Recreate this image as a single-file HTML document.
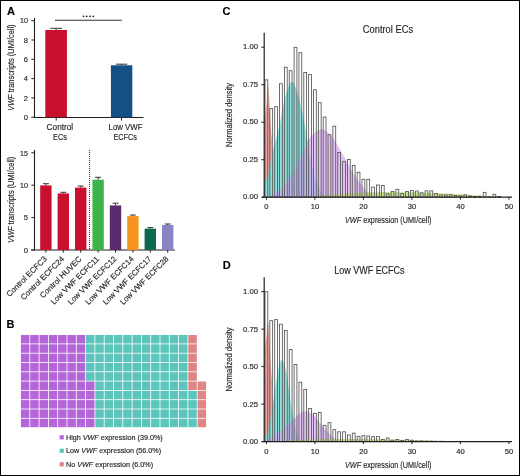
<!DOCTYPE html>
<html><head><meta charset="utf-8"><style>
html,body{margin:0;padding:0;background:#fff;}
svg{display:block;font-family:"Liberation Sans", sans-serif;will-change:transform;}
text{stroke:#231f20;stroke-width:0.15px;}
</style></head><body>
<svg width="520" height="476" viewBox="0 0 520 476">
<rect x="0.5" y="0.5" width="519" height="475" fill="#fff" stroke="#000" stroke-width="1"/>
<text x="7" y="15.0" font-size="11" font-weight="bold" fill="#000">A</text>
<text x="6.6" y="328.2" font-size="11" font-weight="bold" fill="#000">B</text>
<text x="222.6" y="15.3" font-size="11" font-weight="bold" fill="#000">C</text>
<text x="222.8" y="268.6" font-size="11" font-weight="bold" fill="#000">D</text>
<path d="M34.5 18 V117.5 H143.5" fill="none" stroke="#231f20" stroke-width="1.1"/>
<path d="M31.3 117.2 H34.5" stroke="#231f20" stroke-width="1"/>
<text x="27.9" y="119.9" font-size="7.6" text-anchor="end" fill="#231f20" >0</text>
<path d="M31.3 97.9 H34.5" stroke="#231f20" stroke-width="1"/>
<text x="27.9" y="100.6" font-size="7.6" text-anchor="end" fill="#231f20" >2</text>
<path d="M31.3 78.6 H34.5" stroke="#231f20" stroke-width="1"/>
<text x="27.9" y="81.3" font-size="7.6" text-anchor="end" fill="#231f20" >4</text>
<path d="M31.3 59.3 H34.5" stroke="#231f20" stroke-width="1"/>
<text x="27.9" y="62" font-size="7.6" text-anchor="end" fill="#231f20" >6</text>
<path d="M31.3 40 H34.5" stroke="#231f20" stroke-width="1"/>
<text x="27.9" y="42.7" font-size="7.6" text-anchor="end" fill="#231f20" >8</text>
<path d="M31.3 20.7 H34.5" stroke="#231f20" stroke-width="1"/>
<text x="27.9" y="23.4" font-size="7.6" text-anchor="end" fill="#231f20" textLength="8" lengthAdjust="spacingAndGlyphs" >10</text>
<rect x="45.3" y="29.96" width="21.6" height="87.24" fill="#c8102e"/>
<rect x="110.9" y="65.28" width="21.4" height="51.92" fill="#144f85"/>
<path d="M56.1 29.96 V28.3 M50.3 28.3 H62" stroke="#231f20" stroke-width="0.9"/>
<path d="M121.6 65.28 V64.2 M115.8 64.2 H127.3" stroke="#231f20" stroke-width="0.9"/>
<path d="M56.2 117.5 V120.6 M121.5 117.5 V120.6" stroke="#231f20" stroke-width="1"/>
<path d="M55 20.2 H121.8" stroke="#333" stroke-width="1.1"/>
<circle cx="83.5" cy="16.3" r="0.9" fill="#231f20"/><circle cx="86.7" cy="16.3" r="0.9" fill="#231f20"/><circle cx="90.0" cy="16.3" r="0.9" fill="#231f20"/><circle cx="93.3" cy="16.3" r="0.9" fill="#231f20"/>
<text x="59.9" y="130.2" font-size="8.2" text-anchor="middle" fill="#231f20" textLength="26.6" lengthAdjust="spacingAndGlyphs" >Control</text>
<text x="60" y="139.6" font-size="8.2" text-anchor="middle" fill="#231f20" textLength="13.8" lengthAdjust="spacingAndGlyphs" >ECs</text>
<text x="125.5" y="130.2" font-size="8.2" text-anchor="middle" fill="#231f20" textLength="33.9" lengthAdjust="spacingAndGlyphs" >Low VWF</text>
<text x="125.2" y="139.6" font-size="8.2" text-anchor="middle" fill="#231f20" textLength="23.4" lengthAdjust="spacingAndGlyphs" >ECFCs</text>
<text transform="translate(14.3 67.65) rotate(-90)" font-size="9.9" text-anchor="middle" fill="#231f20" textLength="86.3" lengthAdjust="spacingAndGlyphs"><tspan font-style="italic">VWF</tspan> transcripts (UMI/cell)</text>
<path d="M34.5 150 V250 M31 250 H175" fill="none" stroke="#231f20" stroke-width="1.1"/>
<path d="M31.3 250 H34.5" stroke="#231f20" stroke-width="1"/>
<text x="27.9" y="252.7" font-size="7.6" text-anchor="end" fill="#231f20" >0</text>
<path d="M31.3 217.6 H34.5" stroke="#231f20" stroke-width="1"/>
<text x="27.9" y="220.3" font-size="7.6" text-anchor="end" fill="#231f20" >5</text>
<path d="M31.3 185.2 H34.5" stroke="#231f20" stroke-width="1"/>
<text x="27.9" y="187.9" font-size="7.6" text-anchor="end" fill="#231f20" textLength="8" lengthAdjust="spacingAndGlyphs" >10</text>
<path d="M31.3 152.8 H34.5" stroke="#231f20" stroke-width="1"/>
<text x="27.9" y="155.5" font-size="7.6" text-anchor="end" fill="#231f20" textLength="8" lengthAdjust="spacingAndGlyphs" >15</text>
<rect x="40.2" y="185.39" width="11.4" height="64.61" fill="#c8102e"/>
<path d="M45.9 185.39 V183.7 M42.9 183.7 H48.9" stroke="#231f20" stroke-width="0.9"/>
<path d="M45.9 250 V252.6" stroke="#231f20" stroke-width="1"/>
<text transform="translate(47.33 259.5) rotate(-45)" font-size="7.9" text-anchor="end" fill="#231f20">Control ECFC3</text>
<rect x="57.6" y="193.43" width="11.4" height="56.57" fill="#c8102e"/>
<path d="M63.3 193.43 V192.3 M60.3 192.3 H66.3" stroke="#231f20" stroke-width="0.9"/>
<path d="M63.3 250 V252.6" stroke="#231f20" stroke-width="1"/>
<text transform="translate(64.73 259.5) rotate(-45)" font-size="7.9" text-anchor="end" fill="#231f20">Control ECFC24</text>
<rect x="75" y="187.6" width="11.4" height="62.4" fill="#c8102e"/>
<path d="M80.7 187.6 V186 M77.7 186 H83.7" stroke="#231f20" stroke-width="0.9"/>
<path d="M80.7 250 V252.6" stroke="#231f20" stroke-width="1"/>
<text transform="translate(82.13 259.5) rotate(-45)" font-size="7.9" text-anchor="end" fill="#231f20">Control HUVEC</text>
<rect x="92.4" y="179.69" width="11.4" height="70.31" fill="#3cb44b"/>
<path d="M98.1 179.69 V177.3 M95.1 177.3 H101.1" stroke="#231f20" stroke-width="0.9"/>
<path d="M98.1 250 V252.6" stroke="#231f20" stroke-width="1"/>
<text transform="translate(99.53 259.5) rotate(-45)" font-size="7.9" text-anchor="end" fill="#231f20" textLength="64.3" lengthAdjust="spacingAndGlyphs">Low VWF ECFC11</text>
<rect x="109.8" y="205.42" width="11.4" height="44.58" fill="#5c2a6f"/>
<path d="M115.5 205.42 V203.2 M112.5 203.2 H118.5" stroke="#231f20" stroke-width="0.9"/>
<path d="M115.5 250 V252.6" stroke="#231f20" stroke-width="1"/>
<text transform="translate(116.93 259.5) rotate(-45)" font-size="7.9" text-anchor="end" fill="#231f20" textLength="64.85" lengthAdjust="spacingAndGlyphs">Low VWF ECFC12</text>
<rect x="127.2" y="216.11" width="11.4" height="33.89" fill="#f7941d"/>
<path d="M132.9 216.11 V215 M129.9 215 H135.9" stroke="#231f20" stroke-width="0.9"/>
<path d="M132.9 250 V252.6" stroke="#231f20" stroke-width="1"/>
<text transform="translate(134.33 259.5) rotate(-45)" font-size="7.9" text-anchor="end" fill="#231f20" textLength="64.85" lengthAdjust="spacingAndGlyphs">Low VWF ECFC14</text>
<rect x="144.6" y="228.68" width="11.4" height="21.32" fill="#0b6a50"/>
<path d="M150.3 228.68 V227.6 M147.3 227.6 H153.3" stroke="#231f20" stroke-width="0.9"/>
<path d="M150.3 250 V252.6" stroke="#231f20" stroke-width="1"/>
<text transform="translate(151.73 259.5) rotate(-45)" font-size="7.9" text-anchor="end" fill="#231f20" textLength="64.85" lengthAdjust="spacingAndGlyphs">Low VWF ECFC17</text>
<rect x="162" y="224.99" width="11.4" height="25.01" fill="#8a84c4"/>
<path d="M167.7 224.99 V224 M164.7 224 H170.7" stroke="#231f20" stroke-width="0.9"/>
<path d="M167.7 250 V252.6" stroke="#231f20" stroke-width="1"/>
<text transform="translate(169.13 259.5) rotate(-45)" font-size="7.9" text-anchor="end" fill="#231f20" textLength="64.85" lengthAdjust="spacingAndGlyphs">Low VWF ECFC28</text>
<path d="M89.6 150 V250" stroke="#231f20" stroke-width="1" stroke-dasharray="1 1"/>
<text transform="translate(14.3 199.85) rotate(-90)" font-size="9.9" text-anchor="middle" fill="#231f20" textLength="86.1" lengthAdjust="spacingAndGlyphs"><tspan font-style="italic">VWF</tspan> transcripts (UMI/cell)</text>
<rect x="20.9" y="335" width="8.5" height="8.5" fill="#b466d9"/>
<rect x="30.2" y="335" width="8.5" height="8.5" fill="#b466d9"/>
<rect x="39.5" y="335" width="8.5" height="8.5" fill="#b466d9"/>
<rect x="48.8" y="335" width="8.5" height="8.5" fill="#b466d9"/>
<rect x="58.1" y="335" width="8.5" height="8.5" fill="#b466d9"/>
<rect x="67.4" y="335" width="8.5" height="8.5" fill="#b466d9"/>
<rect x="76.7" y="335" width="8.5" height="8.5" fill="#b466d9"/>
<rect x="86" y="335" width="8.5" height="8.5" fill="#5cc6bd"/>
<rect x="95.3" y="335" width="8.5" height="8.5" fill="#5cc6bd"/>
<rect x="104.6" y="335" width="8.5" height="8.5" fill="#5cc6bd"/>
<rect x="113.9" y="335" width="8.5" height="8.5" fill="#5cc6bd"/>
<rect x="123.2" y="335" width="8.5" height="8.5" fill="#5cc6bd"/>
<rect x="132.5" y="335" width="8.5" height="8.5" fill="#5cc6bd"/>
<rect x="141.8" y="335" width="8.5" height="8.5" fill="#5cc6bd"/>
<rect x="151.1" y="335" width="8.5" height="8.5" fill="#5cc6bd"/>
<rect x="160.4" y="335" width="8.5" height="8.5" fill="#5cc6bd"/>
<rect x="169.7" y="335" width="8.5" height="8.5" fill="#5cc6bd"/>
<rect x="179" y="335" width="8.5" height="8.5" fill="#5cc6bd"/>
<rect x="188.3" y="335" width="8.5" height="8.5" fill="#e08585"/>
<rect x="20.9" y="344.3" width="8.5" height="8.5" fill="#b466d9"/>
<rect x="30.2" y="344.3" width="8.5" height="8.5" fill="#b466d9"/>
<rect x="39.5" y="344.3" width="8.5" height="8.5" fill="#b466d9"/>
<rect x="48.8" y="344.3" width="8.5" height="8.5" fill="#b466d9"/>
<rect x="58.1" y="344.3" width="8.5" height="8.5" fill="#b466d9"/>
<rect x="67.4" y="344.3" width="8.5" height="8.5" fill="#b466d9"/>
<rect x="76.7" y="344.3" width="8.5" height="8.5" fill="#b466d9"/>
<rect x="86" y="344.3" width="8.5" height="8.5" fill="#5cc6bd"/>
<rect x="95.3" y="344.3" width="8.5" height="8.5" fill="#5cc6bd"/>
<rect x="104.6" y="344.3" width="8.5" height="8.5" fill="#5cc6bd"/>
<rect x="113.9" y="344.3" width="8.5" height="8.5" fill="#5cc6bd"/>
<rect x="123.2" y="344.3" width="8.5" height="8.5" fill="#5cc6bd"/>
<rect x="132.5" y="344.3" width="8.5" height="8.5" fill="#5cc6bd"/>
<rect x="141.8" y="344.3" width="8.5" height="8.5" fill="#5cc6bd"/>
<rect x="151.1" y="344.3" width="8.5" height="8.5" fill="#5cc6bd"/>
<rect x="160.4" y="344.3" width="8.5" height="8.5" fill="#5cc6bd"/>
<rect x="169.7" y="344.3" width="8.5" height="8.5" fill="#5cc6bd"/>
<rect x="179" y="344.3" width="8.5" height="8.5" fill="#5cc6bd"/>
<rect x="188.3" y="344.3" width="8.5" height="8.5" fill="#e08585"/>
<rect x="20.9" y="353.6" width="8.5" height="8.5" fill="#b466d9"/>
<rect x="30.2" y="353.6" width="8.5" height="8.5" fill="#b466d9"/>
<rect x="39.5" y="353.6" width="8.5" height="8.5" fill="#b466d9"/>
<rect x="48.8" y="353.6" width="8.5" height="8.5" fill="#b466d9"/>
<rect x="58.1" y="353.6" width="8.5" height="8.5" fill="#b466d9"/>
<rect x="67.4" y="353.6" width="8.5" height="8.5" fill="#b466d9"/>
<rect x="76.7" y="353.6" width="8.5" height="8.5" fill="#b466d9"/>
<rect x="86" y="353.6" width="8.5" height="8.5" fill="#5cc6bd"/>
<rect x="95.3" y="353.6" width="8.5" height="8.5" fill="#5cc6bd"/>
<rect x="104.6" y="353.6" width="8.5" height="8.5" fill="#5cc6bd"/>
<rect x="113.9" y="353.6" width="8.5" height="8.5" fill="#5cc6bd"/>
<rect x="123.2" y="353.6" width="8.5" height="8.5" fill="#5cc6bd"/>
<rect x="132.5" y="353.6" width="8.5" height="8.5" fill="#5cc6bd"/>
<rect x="141.8" y="353.6" width="8.5" height="8.5" fill="#5cc6bd"/>
<rect x="151.1" y="353.6" width="8.5" height="8.5" fill="#5cc6bd"/>
<rect x="160.4" y="353.6" width="8.5" height="8.5" fill="#5cc6bd"/>
<rect x="169.7" y="353.6" width="8.5" height="8.5" fill="#5cc6bd"/>
<rect x="179" y="353.6" width="8.5" height="8.5" fill="#5cc6bd"/>
<rect x="188.3" y="353.6" width="8.5" height="8.5" fill="#e08585"/>
<rect x="20.9" y="362.9" width="8.5" height="8.5" fill="#b466d9"/>
<rect x="30.2" y="362.9" width="8.5" height="8.5" fill="#b466d9"/>
<rect x="39.5" y="362.9" width="8.5" height="8.5" fill="#b466d9"/>
<rect x="48.8" y="362.9" width="8.5" height="8.5" fill="#b466d9"/>
<rect x="58.1" y="362.9" width="8.5" height="8.5" fill="#b466d9"/>
<rect x="67.4" y="362.9" width="8.5" height="8.5" fill="#b466d9"/>
<rect x="76.7" y="362.9" width="8.5" height="8.5" fill="#b466d9"/>
<rect x="86" y="362.9" width="8.5" height="8.5" fill="#5cc6bd"/>
<rect x="95.3" y="362.9" width="8.5" height="8.5" fill="#5cc6bd"/>
<rect x="104.6" y="362.9" width="8.5" height="8.5" fill="#5cc6bd"/>
<rect x="113.9" y="362.9" width="8.5" height="8.5" fill="#5cc6bd"/>
<rect x="123.2" y="362.9" width="8.5" height="8.5" fill="#5cc6bd"/>
<rect x="132.5" y="362.9" width="8.5" height="8.5" fill="#5cc6bd"/>
<rect x="141.8" y="362.9" width="8.5" height="8.5" fill="#5cc6bd"/>
<rect x="151.1" y="362.9" width="8.5" height="8.5" fill="#5cc6bd"/>
<rect x="160.4" y="362.9" width="8.5" height="8.5" fill="#5cc6bd"/>
<rect x="169.7" y="362.9" width="8.5" height="8.5" fill="#5cc6bd"/>
<rect x="179" y="362.9" width="8.5" height="8.5" fill="#5cc6bd"/>
<rect x="188.3" y="362.9" width="8.5" height="8.5" fill="#e08585"/>
<rect x="20.9" y="372.2" width="8.5" height="8.5" fill="#b466d9"/>
<rect x="30.2" y="372.2" width="8.5" height="8.5" fill="#b466d9"/>
<rect x="39.5" y="372.2" width="8.5" height="8.5" fill="#b466d9"/>
<rect x="48.8" y="372.2" width="8.5" height="8.5" fill="#b466d9"/>
<rect x="58.1" y="372.2" width="8.5" height="8.5" fill="#b466d9"/>
<rect x="67.4" y="372.2" width="8.5" height="8.5" fill="#b466d9"/>
<rect x="76.7" y="372.2" width="8.5" height="8.5" fill="#b466d9"/>
<rect x="86" y="372.2" width="8.5" height="8.5" fill="#5cc6bd"/>
<rect x="95.3" y="372.2" width="8.5" height="8.5" fill="#5cc6bd"/>
<rect x="104.6" y="372.2" width="8.5" height="8.5" fill="#5cc6bd"/>
<rect x="113.9" y="372.2" width="8.5" height="8.5" fill="#5cc6bd"/>
<rect x="123.2" y="372.2" width="8.5" height="8.5" fill="#5cc6bd"/>
<rect x="132.5" y="372.2" width="8.5" height="8.5" fill="#5cc6bd"/>
<rect x="141.8" y="372.2" width="8.5" height="8.5" fill="#5cc6bd"/>
<rect x="151.1" y="372.2" width="8.5" height="8.5" fill="#5cc6bd"/>
<rect x="160.4" y="372.2" width="8.5" height="8.5" fill="#5cc6bd"/>
<rect x="169.7" y="372.2" width="8.5" height="8.5" fill="#5cc6bd"/>
<rect x="179" y="372.2" width="8.5" height="8.5" fill="#5cc6bd"/>
<rect x="188.3" y="372.2" width="8.5" height="8.5" fill="#e08585"/>
<rect x="20.9" y="381.5" width="8.5" height="8.5" fill="#b466d9"/>
<rect x="30.2" y="381.5" width="8.5" height="8.5" fill="#b466d9"/>
<rect x="39.5" y="381.5" width="8.5" height="8.5" fill="#b466d9"/>
<rect x="48.8" y="381.5" width="8.5" height="8.5" fill="#b466d9"/>
<rect x="58.1" y="381.5" width="8.5" height="8.5" fill="#b466d9"/>
<rect x="67.4" y="381.5" width="8.5" height="8.5" fill="#b466d9"/>
<rect x="76.7" y="381.5" width="8.5" height="8.5" fill="#b466d9"/>
<rect x="86" y="381.5" width="8.5" height="8.5" fill="#b466d9"/>
<rect x="95.3" y="381.5" width="8.5" height="8.5" fill="#5cc6bd"/>
<rect x="104.6" y="381.5" width="8.5" height="8.5" fill="#5cc6bd"/>
<rect x="113.9" y="381.5" width="8.5" height="8.5" fill="#5cc6bd"/>
<rect x="123.2" y="381.5" width="8.5" height="8.5" fill="#5cc6bd"/>
<rect x="132.5" y="381.5" width="8.5" height="8.5" fill="#5cc6bd"/>
<rect x="141.8" y="381.5" width="8.5" height="8.5" fill="#5cc6bd"/>
<rect x="151.1" y="381.5" width="8.5" height="8.5" fill="#5cc6bd"/>
<rect x="160.4" y="381.5" width="8.5" height="8.5" fill="#5cc6bd"/>
<rect x="169.7" y="381.5" width="8.5" height="8.5" fill="#5cc6bd"/>
<rect x="179" y="381.5" width="8.5" height="8.5" fill="#5cc6bd"/>
<rect x="188.3" y="381.5" width="8.5" height="8.5" fill="#e08585"/>
<rect x="197.6" y="381.5" width="8.5" height="8.5" fill="#e08585"/>
<rect x="20.9" y="390.8" width="8.5" height="8.5" fill="#b466d9"/>
<rect x="30.2" y="390.8" width="8.5" height="8.5" fill="#b466d9"/>
<rect x="39.5" y="390.8" width="8.5" height="8.5" fill="#b466d9"/>
<rect x="48.8" y="390.8" width="8.5" height="8.5" fill="#b466d9"/>
<rect x="58.1" y="390.8" width="8.5" height="8.5" fill="#b466d9"/>
<rect x="67.4" y="390.8" width="8.5" height="8.5" fill="#b466d9"/>
<rect x="76.7" y="390.8" width="8.5" height="8.5" fill="#b466d9"/>
<rect x="86" y="390.8" width="8.5" height="8.5" fill="#b466d9"/>
<rect x="95.3" y="390.8" width="8.5" height="8.5" fill="#5cc6bd"/>
<rect x="104.6" y="390.8" width="8.5" height="8.5" fill="#5cc6bd"/>
<rect x="113.9" y="390.8" width="8.5" height="8.5" fill="#5cc6bd"/>
<rect x="123.2" y="390.8" width="8.5" height="8.5" fill="#5cc6bd"/>
<rect x="132.5" y="390.8" width="8.5" height="8.5" fill="#5cc6bd"/>
<rect x="141.8" y="390.8" width="8.5" height="8.5" fill="#5cc6bd"/>
<rect x="151.1" y="390.8" width="8.5" height="8.5" fill="#5cc6bd"/>
<rect x="160.4" y="390.8" width="8.5" height="8.5" fill="#5cc6bd"/>
<rect x="169.7" y="390.8" width="8.5" height="8.5" fill="#5cc6bd"/>
<rect x="179" y="390.8" width="8.5" height="8.5" fill="#5cc6bd"/>
<rect x="188.3" y="390.8" width="8.5" height="8.5" fill="#5cc6bd"/>
<rect x="197.6" y="390.8" width="8.5" height="8.5" fill="#e08585"/>
<rect x="20.9" y="400.1" width="8.5" height="8.5" fill="#b466d9"/>
<rect x="30.2" y="400.1" width="8.5" height="8.5" fill="#b466d9"/>
<rect x="39.5" y="400.1" width="8.5" height="8.5" fill="#b466d9"/>
<rect x="48.8" y="400.1" width="8.5" height="8.5" fill="#b466d9"/>
<rect x="58.1" y="400.1" width="8.5" height="8.5" fill="#b466d9"/>
<rect x="67.4" y="400.1" width="8.5" height="8.5" fill="#b466d9"/>
<rect x="76.7" y="400.1" width="8.5" height="8.5" fill="#b466d9"/>
<rect x="86" y="400.1" width="8.5" height="8.5" fill="#b466d9"/>
<rect x="95.3" y="400.1" width="8.5" height="8.5" fill="#5cc6bd"/>
<rect x="104.6" y="400.1" width="8.5" height="8.5" fill="#5cc6bd"/>
<rect x="113.9" y="400.1" width="8.5" height="8.5" fill="#5cc6bd"/>
<rect x="123.2" y="400.1" width="8.5" height="8.5" fill="#5cc6bd"/>
<rect x="132.5" y="400.1" width="8.5" height="8.5" fill="#5cc6bd"/>
<rect x="141.8" y="400.1" width="8.5" height="8.5" fill="#5cc6bd"/>
<rect x="151.1" y="400.1" width="8.5" height="8.5" fill="#5cc6bd"/>
<rect x="160.4" y="400.1" width="8.5" height="8.5" fill="#5cc6bd"/>
<rect x="169.7" y="400.1" width="8.5" height="8.5" fill="#5cc6bd"/>
<rect x="179" y="400.1" width="8.5" height="8.5" fill="#5cc6bd"/>
<rect x="188.3" y="400.1" width="8.5" height="8.5" fill="#5cc6bd"/>
<rect x="197.6" y="400.1" width="8.5" height="8.5" fill="#e08585"/>
<rect x="20.9" y="409.4" width="8.5" height="8.5" fill="#b466d9"/>
<rect x="30.2" y="409.4" width="8.5" height="8.5" fill="#b466d9"/>
<rect x="39.5" y="409.4" width="8.5" height="8.5" fill="#b466d9"/>
<rect x="48.8" y="409.4" width="8.5" height="8.5" fill="#b466d9"/>
<rect x="58.1" y="409.4" width="8.5" height="8.5" fill="#b466d9"/>
<rect x="67.4" y="409.4" width="8.5" height="8.5" fill="#b466d9"/>
<rect x="76.7" y="409.4" width="8.5" height="8.5" fill="#b466d9"/>
<rect x="86" y="409.4" width="8.5" height="8.5" fill="#b466d9"/>
<rect x="95.3" y="409.4" width="8.5" height="8.5" fill="#5cc6bd"/>
<rect x="104.6" y="409.4" width="8.5" height="8.5" fill="#5cc6bd"/>
<rect x="113.9" y="409.4" width="8.5" height="8.5" fill="#5cc6bd"/>
<rect x="123.2" y="409.4" width="8.5" height="8.5" fill="#5cc6bd"/>
<rect x="132.5" y="409.4" width="8.5" height="8.5" fill="#5cc6bd"/>
<rect x="141.8" y="409.4" width="8.5" height="8.5" fill="#5cc6bd"/>
<rect x="151.1" y="409.4" width="8.5" height="8.5" fill="#5cc6bd"/>
<rect x="160.4" y="409.4" width="8.5" height="8.5" fill="#5cc6bd"/>
<rect x="169.7" y="409.4" width="8.5" height="8.5" fill="#5cc6bd"/>
<rect x="179" y="409.4" width="8.5" height="8.5" fill="#5cc6bd"/>
<rect x="188.3" y="409.4" width="8.5" height="8.5" fill="#5cc6bd"/>
<rect x="197.6" y="409.4" width="8.5" height="8.5" fill="#e08585"/>
<rect x="20.9" y="418.7" width="8.5" height="8.5" fill="#b466d9"/>
<rect x="30.2" y="418.7" width="8.5" height="8.5" fill="#b466d9"/>
<rect x="39.5" y="418.7" width="8.5" height="8.5" fill="#b466d9"/>
<rect x="48.8" y="418.7" width="8.5" height="8.5" fill="#b466d9"/>
<rect x="58.1" y="418.7" width="8.5" height="8.5" fill="#b466d9"/>
<rect x="67.4" y="418.7" width="8.5" height="8.5" fill="#b466d9"/>
<rect x="76.7" y="418.7" width="8.5" height="8.5" fill="#b466d9"/>
<rect x="86" y="418.7" width="8.5" height="8.5" fill="#b466d9"/>
<rect x="95.3" y="418.7" width="8.5" height="8.5" fill="#5cc6bd"/>
<rect x="104.6" y="418.7" width="8.5" height="8.5" fill="#5cc6bd"/>
<rect x="113.9" y="418.7" width="8.5" height="8.5" fill="#5cc6bd"/>
<rect x="123.2" y="418.7" width="8.5" height="8.5" fill="#5cc6bd"/>
<rect x="132.5" y="418.7" width="8.5" height="8.5" fill="#5cc6bd"/>
<rect x="141.8" y="418.7" width="8.5" height="8.5" fill="#5cc6bd"/>
<rect x="151.1" y="418.7" width="8.5" height="8.5" fill="#5cc6bd"/>
<rect x="160.4" y="418.7" width="8.5" height="8.5" fill="#5cc6bd"/>
<rect x="169.7" y="418.7" width="8.5" height="8.5" fill="#5cc6bd"/>
<rect x="179" y="418.7" width="8.5" height="8.5" fill="#5cc6bd"/>
<rect x="188.3" y="418.7" width="8.5" height="8.5" fill="#5cc6bd"/>
<rect x="197.6" y="418.7" width="8.5" height="8.5" fill="#e08585"/>
<rect x="59.6" y="435.2" width="4.2" height="4.2" fill="#b466d9"/>
<text x="66" y="439.8" font-size="7.2" fill="#231f20">High <tspan font-style="italic">VWF</tspan> expression (39.0%)</text>
<rect x="59.6" y="448.7" width="4.2" height="4.2" fill="#5cc6bd"/>
<text x="66" y="453.3" font-size="7.2" fill="#231f20">Low <tspan font-style="italic">VWF</tspan> expression (56.0%)</text>
<rect x="59.6" y="462.2" width="4.2" height="4.2" fill="#e08585"/>
<text x="66" y="466.8" font-size="7.2" fill="#231f20">No <tspan font-style="italic">VWF</tspan> expression (6.0%)</text>
<path d="M264.65 197.2 L264.65 197.2 L264.65 120.7 L266.5 105.1 L267.52 85.75 L267.95 84.7 L268.58 89.2 L269.6 105.1 L270.33 120.25 L271.98 140.05 L272.46 167.2 L272.7 197.2 L272.7 197.2 Z" fill="#f0a49c" fill-opacity="1"/>
<path d="M264.65 197.2 L264.65 185.2 L264.91 184.36 L265.18 183.5 L265.44 182.63 L265.7 181.74 L265.96 180.84 L266.22 179.93 L266.48 179 L266.74 178.06 L267 177.11 L267.26 176.14 L267.52 175.17 L267.79 174.18 L268.05 173.18 L268.31 172.17 L268.57 171.15 L268.83 170.1 L269.09 169.04 L269.35 167.96 L269.61 166.86 L269.87 165.73 L270.13 164.57 L270.4 163.36 L270.66 162.09 L270.92 160.76 L271.18 159.39 L271.44 158.01 L271.7 156.64 L271.96 155.29 L272.22 153.99 L272.48 152.76 L272.74 151.61 L273 150.5 L273.27 149.43 L273.53 148.39 L273.79 147.37 L274.05 146.38 L274.31 145.4 L274.57 144.43 L274.83 143.47 L275.09 142.51 L275.35 141.54 L275.61 140.57 L275.88 139.58 L276.14 138.57 L276.4 137.54 L276.66 136.51 L276.92 135.49 L277.18 134.47 L277.44 133.45 L277.7 132.42 L277.96 131.39 L278.22 130.35 L278.49 129.29 L278.75 128.22 L279.01 127.12 L279.27 126.01 L279.53 124.86 L279.79 123.69 L280.05 122.47 L280.31 121.22 L280.57 119.93 L280.83 118.61 L281.09 117.28 L281.36 115.93 L281.62 114.59 L281.88 113.25 L282.14 111.92 L282.4 110.58 L282.66 109.2 L282.92 107.79 L283.18 106.37 L283.44 104.96 L283.7 103.57 L283.97 102.23 L284.23 100.96 L284.49 99.78 L284.75 98.69 L285.01 97.67 L285.27 96.69 L285.53 95.74 L285.79 94.83 L286.05 93.95 L286.31 93.1 L286.58 92.27 L286.84 91.47 L287.1 90.69 L287.36 89.93 L287.62 89.19 L287.88 88.47 L288.14 87.73 L288.4 87 L288.66 86.27 L288.92 85.57 L289.18 84.91 L289.45 84.33 L289.71 83.83 L289.97 83.44 L290.23 83.08 L290.49 82.73 L290.75 82.41 L291.01 82.13 L291.27 81.91 L291.53 81.76 L291.79 81.7 L292.06 81.74 L292.32 81.86 L292.58 82.06 L292.84 82.31 L293.1 82.61 L293.36 82.93 L293.62 83.27 L293.88 83.61 L294.14 84.02 L294.4 84.51 L294.67 85.07 L294.93 85.68 L295.19 86.34 L295.45 87.02 L295.71 87.71 L295.97 88.41 L296.23 89.12 L296.49 89.86 L296.75 90.63 L297.01 91.42 L297.27 92.25 L297.54 93.1 L297.8 93.97 L298.06 94.87 L298.32 95.78 L298.58 96.72 L298.84 97.67 L299.1 98.63 L299.36 99.62 L299.62 100.64 L299.88 101.68 L300.15 102.76 L300.41 103.87 L300.67 105 L300.93 106.16 L301.19 107.33 L301.45 108.53 L301.71 109.74 L301.97 110.96 L302.23 112.21 L302.49 113.48 L302.76 114.79 L303.02 116.13 L303.28 117.49 L303.54 118.87 L303.8 120.26 L304.06 121.66 L304.32 123.07 L304.58 124.48 L304.84 125.89 L305.1 127.3 L305.36 128.72 L305.63 130.15 L305.89 131.58 L306.15 133.03 L306.41 134.5 L306.67 135.98 L306.93 137.48 L307.19 139 L307.45 140.59 L307.71 142.23 L307.97 143.92 L308.24 145.64 L308.5 147.36 L308.76 149.07 L309.02 150.75 L309.28 152.38 L309.54 153.94 L309.8 155.4 L310.06 156.76 L310.32 158.06 L310.58 159.34 L310.85 160.6 L311.11 161.85 L311.37 163.07 L311.63 164.28 L311.89 165.47 L312.15 166.63 L312.41 167.77 L312.67 168.88 L312.93 169.97 L313.19 171.03 L313.45 172.07 L313.72 173.07 L313.98 174.05 L314.24 174.99 L314.5 175.9 L314.76 176.77 L315.02 177.61 L315.28 178.41 L315.54 179.18 L315.8 179.9 L316.06 180.6 L316.33 181.28 L316.59 181.96 L316.85 182.62 L317.11 183.27 L317.37 183.9 L317.63 184.52 L317.89 185.13 L318.15 185.72 L318.41 186.3 L318.67 186.86 L318.94 187.41 L319.2 187.94 L319.46 188.46 L319.72 188.96 L319.98 189.45 L320.24 189.91 L320.5 190.37 L320.76 190.8 L321.02 191.22 L321.28 191.62 L321.54 192 L321.81 192.37 L322.07 192.71 L322.33 193.04 L322.59 193.35 L322.85 193.66 L323.11 193.96 L323.37 194.25 L323.63 194.53 L323.89 194.81 L324.15 195.08 L324.42 195.33 L324.68 195.58 L324.94 195.82 L325.2 196.04 L325.46 196.25 L325.72 196.45 L325.98 196.63 L326.24 196.8 L326.5 196.95 L326.76 197.08 L327.02 197.2 L327.02 197.2 Z" fill="#8ee0dc" fill-opacity="1"/>
<path d="M264.12 197.2 L264.12 197.2 L264.59 197.16 L265.05 197.1 L265.52 197.02 L265.99 196.93 L266.45 196.83 L266.92 196.71 L267.38 196.58 L267.85 196.44 L268.32 196.29 L268.78 196.12 L269.25 195.95 L269.71 195.76 L270.18 195.56 L270.65 195.36 L271.11 195.15 L271.58 194.93 L272.04 194.7 L272.51 194.46 L272.98 194.22 L273.44 193.98 L273.91 193.73 L274.38 193.48 L274.84 193.22 L275.31 192.96 L275.77 192.7 L276.24 192.43 L276.71 192.16 L277.17 191.85 L277.64 191.53 L278.1 191.18 L278.57 190.81 L279.04 190.42 L279.5 190.01 L279.97 189.58 L280.43 189.14 L280.9 188.68 L281.37 188.2 L281.83 187.72 L282.3 187.22 L282.77 186.72 L283.23 186.2 L283.7 185.68 L284.16 185.15 L284.63 184.62 L285.1 184.08 L285.56 183.52 L286.03 182.93 L286.49 182.32 L286.96 181.68 L287.43 181.03 L287.89 180.36 L288.36 179.67 L288.83 178.97 L289.29 178.26 L289.76 177.54 L290.22 176.81 L290.69 176.07 L291.16 175.34 L291.62 174.6 L292.09 173.86 L292.55 173.12 L293.02 172.38 L293.49 171.66 L293.95 170.93 L294.42 170.2 L294.88 169.46 L295.35 168.7 L295.82 167.92 L296.28 167.12 L296.75 166.28 L297.22 165.4 L297.68 164.47 L298.15 163.45 L298.61 162.38 L299.08 161.29 L299.55 160.18 L300.01 159.1 L300.48 158.02 L300.94 156.94 L301.41 155.85 L301.88 154.76 L302.34 153.67 L302.81 152.58 L303.28 151.49 L303.74 150.37 L304.21 149.24 L304.67 148.1 L305.14 146.99 L305.61 145.91 L306.07 144.9 L306.54 143.96 L307 143.04 L307.47 142.14 L307.94 141.27 L308.4 140.43 L308.87 139.62 L309.33 138.86 L309.8 138.15 L310.27 137.49 L310.73 136.88 L311.2 136.3 L311.67 135.73 L312.13 135.18 L312.6 134.65 L313.06 134.15 L313.53 133.67 L314 133.23 L314.46 132.81 L314.93 132.43 L315.39 132.08 L315.86 131.78 L316.33 131.48 L316.79 131.18 L317.26 130.89 L317.73 130.61 L318.19 130.33 L318.66 130.08 L319.12 129.85 L319.59 129.65 L320.06 129.49 L320.52 129.36 L320.99 129.28 L321.45 129.25 L321.92 129.27 L322.39 129.34 L322.85 129.45 L323.32 129.6 L323.78 129.79 L324.25 130 L324.72 130.24 L325.18 130.5 L325.65 130.77 L326.12 131.05 L326.58 131.34 L327.05 131.63 L327.51 131.93 L327.98 132.26 L328.45 132.63 L328.91 133.04 L329.38 133.49 L329.84 133.96 L330.31 134.47 L330.78 134.99 L331.24 135.54 L331.71 136.1 L332.18 136.67 L332.64 137.25 L333.11 137.86 L333.57 138.51 L334.04 139.2 L334.51 139.93 L334.97 140.68 L335.44 141.45 L335.9 142.24 L336.37 143.04 L336.84 143.83 L337.3 144.63 L337.77 145.41 L338.23 146.19 L338.7 146.99 L339.17 147.79 L339.63 148.61 L340.1 149.43 L340.57 150.25 L341.03 151.07 L341.5 151.9 L341.96 152.72 L342.43 153.53 L342.9 154.35 L343.36 155.16 L343.83 155.97 L344.29 156.79 L344.76 157.61 L345.23 158.43 L345.69 159.27 L346.16 160.11 L346.63 160.96 L347.09 161.84 L347.56 162.73 L348.02 163.64 L348.49 164.55 L348.96 165.46 L349.42 166.37 L349.89 167.28 L350.35 168.18 L350.82 169.06 L351.29 169.93 L351.75 170.77 L352.22 171.59 L352.68 172.38 L353.15 173.14 L353.62 173.88 L354.08 174.62 L354.55 175.34 L355.02 176.05 L355.48 176.75 L355.95 177.43 L356.41 178.11 L356.88 178.78 L357.35 179.44 L357.81 180.09 L358.28 180.74 L358.74 181.37 L359.21 182 L359.68 182.62 L360.14 183.24 L360.61 183.86 L361.08 184.47 L361.54 185.1 L362.01 185.72 L362.47 186.34 L362.94 186.95 L363.41 187.56 L363.87 188.15 L364.34 188.73 L364.8 189.29 L365.27 189.83 L365.74 190.34 L366.2 190.82 L366.67 191.28 L367.13 191.69 L367.6 192.09 L368.07 192.48 L368.53 192.87 L369 193.24 L369.47 193.61 L369.93 193.97 L370.4 194.32 L370.86 194.66 L371.33 194.98 L371.8 195.29 L372.26 195.59 L372.73 195.87 L373.19 196.14 L373.66 196.39 L374.13 196.62 L374.59 196.83 L375.06 197.03 L375.52 197.2 L375.52 197.2 Z" fill="#d6a2f4" fill-opacity="0.65"/>
<path d="M295.5 197.2 L295.5 197.2 L296.37 197.16 L297.25 197.12 L298.12 197.07 L298.99 197.03 L299.86 196.98 L300.74 196.93 L301.61 196.88 L302.48 196.83 L303.35 196.78 L304.23 196.73 L305.1 196.67 L305.97 196.62 L306.84 196.56 L307.72 196.51 L308.59 196.45 L309.46 196.39 L310.33 196.33 L311.21 196.27 L312.08 196.21 L312.95 196.14 L313.82 196.08 L314.7 196.02 L315.57 195.95 L316.44 195.88 L317.31 195.81 L318.19 195.73 L319.06 195.65 L319.93 195.57 L320.81 195.48 L321.68 195.4 L322.55 195.31 L323.42 195.22 L324.3 195.13 L325.17 195.04 L326.04 194.95 L326.91 194.87 L327.79 194.78 L328.66 194.69 L329.53 194.61 L330.4 194.53 L331.28 194.45 L332.15 194.37 L333.02 194.3 L333.89 194.23 L334.77 194.17 L335.64 194.1 L336.51 194.03 L337.38 193.97 L338.26 193.91 L339.13 193.84 L340 193.78 L340.87 193.71 L341.75 193.65 L342.62 193.59 L343.49 193.53 L344.37 193.47 L345.24 193.41 L346.11 193.35 L346.98 193.29 L347.86 193.24 L348.73 193.18 L349.6 193.13 L350.47 193.08 L351.35 193.03 L352.22 192.98 L353.09 192.94 L353.96 192.89 L354.84 192.85 L355.71 192.81 L356.58 192.78 L357.45 192.74 L358.33 192.71 L359.2 192.68 L360.07 192.65 L360.94 192.61 L361.82 192.58 L362.69 192.55 L363.56 192.52 L364.43 192.49 L365.31 192.46 L366.18 192.43 L367.05 192.4 L367.93 192.38 L368.8 192.35 L369.67 192.32 L370.54 192.3 L371.42 192.27 L372.29 192.25 L373.16 192.23 L374.03 192.21 L374.91 192.19 L375.78 192.17 L376.65 192.16 L377.52 192.14 L378.4 192.13 L379.27 192.12 L380.14 192.11 L381.01 192.1 L381.89 192.1 L382.76 192.1 L383.63 192.1 L384.5 192.1 L385.38 192.1 L386.25 192.1 L387.12 192.1 L387.99 192.11 L388.87 192.11 L389.74 192.11 L390.61 192.11 L391.49 192.12 L392.36 192.12 L393.23 192.12 L394.1 192.13 L394.98 192.13 L395.85 192.13 L396.72 192.14 L397.59 192.14 L398.47 192.15 L399.34 192.15 L400.21 192.16 L401.08 192.16 L401.96 192.17 L402.83 192.18 L403.7 192.18 L404.57 192.19 L405.45 192.2 L406.32 192.2 L407.19 192.21 L408.06 192.22 L408.94 192.22 L409.81 192.23 L410.68 192.24 L411.56 192.25 L412.43 192.26 L413.3 192.27 L414.17 192.28 L415.05 192.29 L415.92 192.31 L416.79 192.33 L417.66 192.35 L418.54 192.38 L419.41 192.4 L420.28 192.43 L421.15 192.46 L422.03 192.49 L422.9 192.52 L423.77 192.55 L424.64 192.58 L425.52 192.62 L426.39 192.65 L427.26 192.69 L428.13 192.73 L429.01 192.76 L429.88 192.8 L430.75 192.84 L431.62 192.88 L432.5 192.92 L433.37 192.96 L434.24 193 L435.12 193.04 L435.99 193.08 L436.86 193.12 L437.73 193.16 L438.61 193.2 L439.48 193.24 L440.35 193.27 L441.22 193.31 L442.1 193.35 L442.97 193.38 L443.84 193.42 L444.71 193.46 L445.59 193.5 L446.46 193.54 L447.33 193.58 L448.2 193.61 L449.08 193.65 L449.95 193.7 L450.82 193.74 L451.69 193.78 L452.57 193.82 L453.44 193.86 L454.31 193.91 L455.18 193.95 L456.06 193.99 L456.93 194.04 L457.8 194.08 L458.68 194.13 L459.55 194.18 L460.42 194.22 L461.29 194.27 L462.17 194.32 L463.04 194.37 L463.91 194.42 L464.78 194.47 L465.66 194.52 L466.53 194.58 L467.4 194.63 L468.27 194.69 L469.15 194.75 L470.02 194.81 L470.89 194.88 L471.76 194.94 L472.64 195.01 L473.51 195.07 L474.38 195.14 L475.25 195.21 L476.13 195.28 L477 195.35 L477.87 195.42 L478.74 195.49 L479.62 195.56 L480.49 195.63 L481.36 195.7 L482.24 195.76 L483.11 195.83 L483.98 195.9 L484.85 195.97 L485.73 196.03 L486.6 196.1 L487.47 196.16 L488.34 196.22 L489.22 196.28 L490.09 196.34 L490.96 196.4 L491.83 196.45 L492.71 196.51 L493.58 196.57 L494.45 196.62 L495.32 196.68 L496.2 196.73 L497.07 196.79 L497.94 196.84 L498.81 196.89 L499.69 196.94 L500.56 197 L501.43 197.05 L502.3 197.1 L503.18 197.15 L504.05 197.2 L504.05 197.2 Z" fill="#bcd874" fill-opacity="0.75"/>
<rect x="265" y="79.85" width="2.8" height="117.35" fill="none" stroke="#555" stroke-width="0.85"/>
<rect x="269.85" y="108.65" width="2.8" height="88.55" fill="none" stroke="#555" stroke-width="0.85"/>
<rect x="274.7" y="106.7" width="2.8" height="90.5" fill="none" stroke="#555" stroke-width="0.85"/>
<rect x="279.55" y="83.75" width="2.8" height="113.45" fill="none" stroke="#555" stroke-width="0.85"/>
<rect x="284.4" y="67.25" width="2.8" height="129.95" fill="none" stroke="#555" stroke-width="0.85"/>
<rect x="289.25" y="70.7" width="2.8" height="126.5" fill="none" stroke="#555" stroke-width="0.85"/>
<rect x="294.1" y="47.3" width="2.8" height="149.9" fill="none" stroke="#555" stroke-width="0.85"/>
<rect x="298.95" y="52.7" width="2.8" height="144.5" fill="none" stroke="#555" stroke-width="0.85"/>
<rect x="303.8" y="72.5" width="2.8" height="124.7" fill="none" stroke="#555" stroke-width="0.85"/>
<rect x="308.65" y="74.6" width="2.8" height="122.6" fill="none" stroke="#555" stroke-width="0.85"/>
<rect x="313.5" y="89.75" width="2.8" height="107.45" fill="none" stroke="#555" stroke-width="0.85"/>
<rect x="318.35" y="102.65" width="2.8" height="94.55" fill="none" stroke="#555" stroke-width="0.85"/>
<rect x="323.2" y="117.05" width="2.8" height="80.15" fill="none" stroke="#555" stroke-width="0.85"/>
<rect x="328.05" y="134.75" width="2.8" height="62.45" fill="none" stroke="#555" stroke-width="0.85"/>
<rect x="332.9" y="126.2" width="2.8" height="71" fill="none" stroke="#555" stroke-width="0.85"/>
<rect x="337.75" y="152.45" width="2.8" height="44.75" fill="none" stroke="#555" stroke-width="0.85"/>
<rect x="342.6" y="161.6" width="2.8" height="35.6" fill="none" stroke="#555" stroke-width="0.85"/>
<rect x="347.45" y="159.5" width="2.8" height="37.7" fill="none" stroke="#555" stroke-width="0.85"/>
<rect x="352.3" y="165.35" width="2.8" height="31.85" fill="none" stroke="#555" stroke-width="0.85"/>
<rect x="357.15" y="172.25" width="2.8" height="24.95" fill="none" stroke="#555" stroke-width="0.85"/>
<rect x="362" y="179.3" width="2.8" height="17.9" fill="none" stroke="#555" stroke-width="0.85"/>
<rect x="366.85" y="179.3" width="2.8" height="17.9" fill="none" stroke="#555" stroke-width="0.85"/>
<rect x="371.7" y="187.1" width="2.8" height="10.1" fill="none" stroke="#555" stroke-width="0.85"/>
<rect x="376.55" y="185" width="2.8" height="12.2" fill="none" stroke="#555" stroke-width="0.85"/>
<rect x="381.4" y="185.45" width="2.8" height="11.75" fill="none" stroke="#555" stroke-width="0.85"/>
<rect x="386.25" y="193.85" width="2.8" height="3.35" fill="none" stroke="#555" stroke-width="0.85"/>
<rect x="391.1" y="191.45" width="2.8" height="5.75" fill="none" stroke="#555" stroke-width="0.85"/>
<rect x="395.95" y="189.35" width="2.8" height="7.85" fill="none" stroke="#555" stroke-width="0.85"/>
<rect x="400.8" y="193.55" width="2.8" height="3.65" fill="none" stroke="#555" stroke-width="0.85"/>
<rect x="405.65" y="191.45" width="2.8" height="5.75" fill="none" stroke="#555" stroke-width="0.85"/>
<rect x="410.5" y="190.55" width="2.8" height="6.65" fill="none" stroke="#555" stroke-width="0.85"/>
<rect x="415.35" y="191" width="2.8" height="6.2" fill="none" stroke="#555" stroke-width="0.85"/>
<rect x="420.2" y="192.8" width="2.8" height="4.4" fill="none" stroke="#555" stroke-width="0.85"/>
<rect x="425.05" y="190.85" width="2.8" height="6.35" fill="none" stroke="#555" stroke-width="0.85"/>
<rect x="429.9" y="190.85" width="2.8" height="6.35" fill="none" stroke="#555" stroke-width="0.85"/>
<rect x="434.75" y="193.55" width="2.8" height="3.65" fill="none" stroke="#555" stroke-width="0.85"/>
<rect x="439.6" y="194.9" width="2.8" height="2.3" fill="none" stroke="#555" stroke-width="0.85"/>
<rect x="444.45" y="194.9" width="2.8" height="2.3" fill="none" stroke="#555" stroke-width="0.85"/>
<rect x="449.3" y="194.75" width="2.8" height="2.45" fill="none" stroke="#555" stroke-width="0.85"/>
<rect x="454.15" y="195.5" width="2.8" height="1.7" fill="none" stroke="#555" stroke-width="0.85"/>
<rect x="459" y="195.8" width="2.8" height="1.4" fill="none" stroke="#555" stroke-width="0.85"/>
<rect x="463.85" y="194.75" width="2.8" height="2.45" fill="none" stroke="#555" stroke-width="0.85"/>
<rect x="468.7" y="195.95" width="2.8" height="1.25" fill="none" stroke="#555" stroke-width="0.85"/>
<rect x="473.55" y="196.55" width="2.8" height="0.65" fill="none" stroke="#555" stroke-width="0.85"/>
<rect x="478.4" y="196.25" width="2.8" height="0.95" fill="none" stroke="#555" stroke-width="0.85"/>
<rect x="483.25" y="192.35" width="2.8" height="4.85" fill="none" stroke="#555" stroke-width="0.85"/>
<rect x="488.1" y="196.85" width="2.8" height="0.35" fill="none" stroke="#555" stroke-width="0.85"/>
<rect x="492.95" y="194.3" width="2.8" height="2.9" fill="none" stroke="#555" stroke-width="0.85"/>
<rect x="497.8" y="196.55" width="2.8" height="0.65" fill="none" stroke="#555" stroke-width="0.85"/>
<path d="M264.2 32.8 V197.2 M262 197.2 H512" fill="none" stroke="#231f20" stroke-width="1.2"/>
<path d="M261.3 197.2 H264.2" stroke="#231f20" stroke-width="1"/>
<text x="258" y="199.4" font-size="7.6" text-anchor="end" fill="#231f20" textLength="15" lengthAdjust="spacingAndGlyphs" >0.00</text>
<path d="M261.3 159.7 H264.2" stroke="#231f20" stroke-width="1"/>
<text x="258" y="161.9" font-size="7.6" text-anchor="end" fill="#231f20" textLength="15" lengthAdjust="spacingAndGlyphs" >0.25</text>
<path d="M261.3 122.2 H264.2" stroke="#231f20" stroke-width="1"/>
<text x="258" y="124.4" font-size="7.6" text-anchor="end" fill="#231f20" textLength="15" lengthAdjust="spacingAndGlyphs" >0.50</text>
<path d="M261.3 84.7 H264.2" stroke="#231f20" stroke-width="1"/>
<text x="258" y="86.9" font-size="7.6" text-anchor="end" fill="#231f20" textLength="15" lengthAdjust="spacingAndGlyphs" >0.75</text>
<path d="M261.3 47.2 H264.2" stroke="#231f20" stroke-width="1"/>
<text x="258" y="49.4" font-size="7.6" text-anchor="end" fill="#231f20" textLength="15" lengthAdjust="spacingAndGlyphs" >1.00</text>
<path d="M266.4 197.2 V199.7" stroke="#231f20" stroke-width="1"/>
<text x="266.4" y="209.4" font-size="7.6" text-anchor="middle" fill="#231f20" >0</text>
<path d="M314.9 197.2 V199.7" stroke="#231f20" stroke-width="1"/>
<text x="314.9" y="209.4" font-size="7.6" text-anchor="middle" fill="#231f20" >10</text>
<path d="M363.4 197.2 V199.7" stroke="#231f20" stroke-width="1"/>
<text x="363.4" y="209.4" font-size="7.6" text-anchor="middle" fill="#231f20" >20</text>
<path d="M411.9 197.2 V199.7" stroke="#231f20" stroke-width="1"/>
<text x="411.9" y="209.4" font-size="7.6" text-anchor="middle" fill="#231f20" >30</text>
<path d="M460.4 197.2 V199.7" stroke="#231f20" stroke-width="1"/>
<text x="460.4" y="209.4" font-size="7.6" text-anchor="middle" fill="#231f20" >40</text>
<path d="M508.9 197.2 V199.7" stroke="#231f20" stroke-width="1"/>
<text x="508.9" y="209.4" font-size="7.6" text-anchor="middle" fill="#231f20" >50</text>
<text x="362.8" y="32.7" font-size="10" text-anchor="start" fill="#231f20" textLength="50.3" lengthAdjust="spacingAndGlyphs" >Control ECs</text>
<text x="345" y="223.1" font-size="9" fill="#231f20" textLength="86.5" lengthAdjust="spacingAndGlyphs"><tspan font-style="italic">VWF</tspan> expression (UMI/cell)</text>
<text transform="translate(232 115) rotate(-90)" font-size="8.8" text-anchor="middle" fill="#231f20" textLength="64" lengthAdjust="spacingAndGlyphs">Normalized density</text>
<path d="M264.65 441.6 L264.65 441.6 L264.65 351.6 L266.5 336.6 L267.52 323.85 L267.95 323.1 L268.58 327.6 L269.6 344.1 L270.33 359.1 L271.98 380.1 L272.46 411.6 L272.7 441.6 L272.7 441.6 Z" fill="#f0a49c" fill-opacity="1"/>
<path d="M264.65 441.6 L264.65 437.1 L264.81 437.04 L264.96 436.95 L265.12 436.83 L265.28 436.68 L265.43 436.51 L265.59 436.33 L265.74 436.12 L265.9 435.91 L266.05 435.69 L266.21 435.43 L266.36 435.13 L266.52 434.79 L266.67 434.41 L266.83 433.99 L266.99 433.54 L267.14 433.06 L267.3 432.56 L267.45 432.02 L267.61 431.47 L267.76 430.89 L267.92 430.3 L268.07 429.69 L268.23 429.08 L268.38 428.45 L268.54 427.81 L268.7 427.18 L268.85 426.54 L269.01 425.9 L269.16 425.25 L269.32 424.57 L269.47 423.86 L269.63 423.13 L269.78 422.37 L269.94 421.58 L270.09 420.78 L270.25 419.95 L270.41 419.1 L270.56 418.24 L270.72 417.37 L270.87 416.48 L271.03 415.58 L271.18 414.67 L271.34 413.75 L271.49 412.83 L271.65 411.91 L271.8 410.98 L271.96 410.06 L272.12 409.12 L272.27 408.16 L272.43 407.18 L272.58 406.18 L272.74 405.17 L272.89 404.14 L273.05 403.09 L273.2 402.04 L273.36 400.98 L273.51 399.91 L273.67 398.83 L273.83 397.76 L273.98 396.68 L274.14 395.6 L274.29 394.53 L274.45 393.46 L274.6 392.41 L274.76 391.36 L274.91 390.32 L275.07 389.29 L275.22 388.23 L275.38 387.14 L275.54 386.03 L275.69 384.91 L275.85 383.77 L276 382.63 L276.16 381.49 L276.31 380.37 L276.47 379.25 L276.62 378.16 L276.78 377.09 L276.93 376.05 L277.09 375.06 L277.24 374.1 L277.4 373.2 L277.56 372.36 L277.71 371.58 L277.87 370.87 L278.02 370.23 L278.18 369.61 L278.33 369 L278.49 368.38 L278.64 367.77 L278.8 367.16 L278.95 366.55 L279.11 365.96 L279.27 365.38 L279.42 364.81 L279.58 364.26 L279.73 363.73 L279.89 363.21 L280.04 362.72 L280.2 362.25 L280.35 361.82 L280.51 361.41 L280.66 361.03 L280.82 360.68 L280.98 360.37 L281.13 360.1 L281.29 359.87 L281.44 359.69 L281.6 359.54 L281.75 359.45 L281.91 359.4 L282.06 359.41 L282.22 359.47 L282.37 359.58 L282.53 359.73 L282.69 359.94 L282.84 360.18 L283 360.47 L283.15 360.79 L283.31 361.15 L283.46 361.55 L283.62 361.98 L283.77 362.43 L283.93 362.91 L284.08 363.42 L284.24 363.95 L284.4 364.5 L284.55 365.07 L284.71 365.65 L284.86 366.24 L285.02 366.85 L285.17 367.46 L285.33 368.08 L285.48 368.7 L285.64 369.32 L285.79 369.94 L285.95 370.56 L286.11 371.25 L286.26 372 L286.42 372.81 L286.57 373.69 L286.73 374.62 L286.88 375.6 L287.04 376.62 L287.19 377.67 L287.35 378.75 L287.5 379.86 L287.66 380.98 L287.82 382.11 L287.97 383.25 L288.13 384.39 L288.28 385.52 L288.44 386.63 L288.59 387.73 L288.75 388.8 L288.9 389.84 L289.06 390.88 L289.21 391.92 L289.37 392.98 L289.52 394.04 L289.68 395.11 L289.84 396.19 L289.99 397.27 L290.15 398.35 L290.3 399.43 L290.46 400.5 L290.61 401.57 L290.77 402.63 L290.92 403.68 L291.08 404.71 L291.23 405.74 L291.39 406.74 L291.55 407.72 L291.7 408.69 L291.86 409.63 L292.01 410.55 L292.17 411.47 L292.32 412.39 L292.48 413.3 L292.63 414.21 L292.79 415.12 L292.94 416.02 L293.1 416.9 L293.26 417.78 L293.41 418.64 L293.57 419.48 L293.72 420.31 L293.88 421.11 L294.03 421.9 L294.19 422.66 L294.34 423.39 L294.5 424.1 L294.65 424.78 L294.81 425.42 L294.97 426.03 L295.12 426.63 L295.28 427.23 L295.43 427.81 L295.59 428.39 L295.74 428.96 L295.9 429.52 L296.05 430.07 L296.21 430.61 L296.36 431.14 L296.52 431.66 L296.68 432.17 L296.83 432.67 L296.99 433.15 L297.14 433.62 L297.3 434.08 L297.45 434.52 L297.61 434.95 L297.76 435.36 L297.92 435.76 L298.07 436.14 L298.23 436.5 L298.39 436.85 L298.54 437.17 L298.7 437.48 L298.85 437.77 L299.01 438.05 L299.16 438.32 L299.32 438.58 L299.47 438.84 L299.63 439.09 L299.78 439.34 L299.94 439.58 L300.1 439.81 L300.25 440.03 L300.41 440.24 L300.56 440.44 L300.72 440.63 L300.87 440.81 L301.03 440.98 L301.18 441.13 L301.34 441.27 L301.49 441.39 L301.65 441.51 L301.8 441.6 L301.8 441.6 Z" fill="#8ee0dc" fill-opacity="1"/>
<path d="M264.46 441.6 L264.46 441 L264.78 440.86 L265.11 440.72 L265.43 440.57 L265.75 440.42 L266.07 440.26 L266.4 440.1 L266.72 439.93 L267.04 439.76 L267.36 439.59 L267.69 439.41 L268.01 439.23 L268.33 439.05 L268.65 438.87 L268.98 438.68 L269.3 438.49 L269.62 438.3 L269.95 438.1 L270.27 437.91 L270.59 437.71 L270.91 437.51 L271.24 437.31 L271.56 437.1 L271.88 436.9 L272.2 436.69 L272.53 436.48 L272.85 436.27 L273.17 436.05 L273.49 435.84 L273.82 435.63 L274.14 435.41 L274.46 435.19 L274.79 434.97 L275.11 434.75 L275.43 434.53 L275.75 434.31 L276.08 434.09 L276.4 433.86 L276.72 433.64 L277.04 433.41 L277.37 433.19 L277.69 432.96 L278.01 432.74 L278.33 432.51 L278.66 432.28 L278.98 432.05 L279.3 431.82 L279.62 431.58 L279.95 431.35 L280.27 431.11 L280.59 430.87 L280.92 430.63 L281.24 430.39 L281.56 430.15 L281.88 429.9 L282.21 429.66 L282.53 429.41 L282.85 429.16 L283.17 428.91 L283.5 428.65 L283.82 428.4 L284.14 428.14 L284.46 427.88 L284.79 427.62 L285.11 427.36 L285.43 427.1 L285.76 426.83 L286.08 426.56 L286.4 426.29 L286.72 426.02 L287.05 425.75 L287.37 425.48 L287.69 425.2 L288.01 424.92 L288.34 424.64 L288.66 424.35 L288.98 424.05 L289.3 423.75 L289.63 423.44 L289.95 423.13 L290.27 422.81 L290.6 422.49 L290.92 422.16 L291.24 421.83 L291.56 421.5 L291.89 421.17 L292.21 420.84 L292.53 420.5 L292.85 420.17 L293.18 419.83 L293.5 419.5 L293.82 419.17 L294.14 418.84 L294.47 418.52 L294.79 418.2 L295.11 417.88 L295.44 417.56 L295.76 417.25 L296.08 416.95 L296.4 416.65 L296.73 416.36 L297.05 416.08 L297.37 415.8 L297.69 415.54 L298.02 415.28 L298.34 415.01 L298.66 414.73 L298.98 414.44 L299.31 414.14 L299.63 413.85 L299.95 413.55 L300.27 413.25 L300.6 412.96 L300.92 412.68 L301.24 412.41 L301.57 412.16 L301.89 411.92 L302.21 411.7 L302.53 411.51 L302.86 411.34 L303.18 411.21 L303.5 411.1 L303.82 411.03 L304.15 411 L304.47 411 L304.79 411.02 L305.11 411.05 L305.44 411.09 L305.76 411.15 L306.08 411.21 L306.41 411.29 L306.73 411.38 L307.05 411.47 L307.37 411.58 L307.7 411.7 L308.02 411.82 L308.34 411.96 L308.66 412.1 L308.99 412.25 L309.31 412.4 L309.63 412.56 L309.95 412.73 L310.28 412.91 L310.6 413.09 L310.92 413.27 L311.25 413.46 L311.57 413.65 L311.89 413.84 L312.21 414.04 L312.54 414.24 L312.86 414.44 L313.18 414.65 L313.5 414.88 L313.83 415.16 L314.15 415.46 L314.47 415.8 L314.79 416.17 L315.12 416.56 L315.44 416.97 L315.76 417.39 L316.09 417.83 L316.41 418.28 L316.73 418.73 L317.05 419.19 L317.38 419.64 L317.7 420.09 L318.02 420.53 L318.34 420.95 L318.67 421.36 L318.99 421.75 L319.31 422.15 L319.63 422.54 L319.96 422.94 L320.28 423.34 L320.6 423.74 L320.92 424.13 L321.25 424.53 L321.57 424.93 L321.89 425.33 L322.22 425.72 L322.54 426.11 L322.86 426.5 L323.18 426.89 L323.51 427.27 L323.83 427.66 L324.15 428.03 L324.47 428.41 L324.8 428.78 L325.12 429.15 L325.44 429.52 L325.76 429.89 L326.09 430.26 L326.41 430.63 L326.73 431 L327.06 431.37 L327.38 431.73 L327.7 432.09 L328.02 432.44 L328.35 432.79 L328.67 433.13 L328.99 433.47 L329.31 433.79 L329.64 434.11 L329.96 434.42 L330.28 434.72 L330.6 435.02 L330.93 435.31 L331.25 435.59 L331.57 435.88 L331.9 436.16 L332.22 436.44 L332.54 436.71 L332.86 436.98 L333.19 437.25 L333.51 437.5 L333.83 437.75 L334.15 438 L334.48 438.23 L334.8 438.46 L335.12 438.68 L335.44 438.88 L335.77 439.08 L336.09 439.27 L336.41 439.44 L336.74 439.62 L337.06 439.78 L337.38 439.95 L337.7 440.11 L338.03 440.27 L338.35 440.42 L338.67 440.56 L338.99 440.71 L339.32 440.84 L339.64 440.97 L339.96 441.09 L340.28 441.21 L340.61 441.32 L340.93 441.42 L341.25 441.51 L341.57 441.6 L341.57 441.6 Z" fill="#d6a2f4" fill-opacity="0.65"/>
<path d="M276.1 441.6 L276.1 441.6 L276.81 441.53 L277.52 441.47 L278.23 441.41 L278.94 441.34 L279.65 441.28 L280.36 441.22 L281.07 441.15 L281.78 441.09 L282.49 441.03 L283.2 440.97 L283.91 440.92 L284.62 440.86 L285.33 440.8 L286.04 440.75 L286.75 440.69 L287.46 440.64 L288.17 440.58 L288.88 440.53 L289.59 440.48 L290.31 440.43 L291.02 440.38 L291.73 440.34 L292.44 440.29 L293.15 440.24 L293.86 440.2 L294.57 440.16 L295.28 440.11 L295.99 440.07 L296.7 440.03 L297.41 439.99 L298.12 439.95 L298.83 439.91 L299.54 439.86 L300.25 439.82 L300.96 439.78 L301.67 439.74 L302.38 439.7 L303.09 439.66 L303.8 439.62 L304.51 439.59 L305.22 439.55 L305.93 439.52 L306.64 439.48 L307.35 439.45 L308.06 439.42 L308.77 439.39 L309.48 439.36 L310.19 439.33 L310.9 439.31 L311.61 439.28 L312.32 439.26 L313.03 439.24 L313.74 439.22 L314.45 439.21 L315.16 439.2 L315.87 439.18 L316.58 439.17 L317.29 439.16 L318 439.15 L318.72 439.14 L319.43 439.12 L320.14 439.11 L320.85 439.1 L321.56 439.09 L322.27 439.08 L322.98 439.07 L323.69 439.06 L324.4 439.05 L325.11 439.04 L325.82 439.03 L326.53 439.02 L327.24 439.01 L327.95 439 L328.66 438.99 L329.37 438.99 L330.08 438.98 L330.79 438.97 L331.5 438.96 L332.21 438.96 L332.92 438.95 L333.63 438.95 L334.34 438.94 L335.05 438.93 L335.76 438.93 L336.47 438.92 L337.18 438.92 L337.89 438.92 L338.6 438.91 L339.31 438.91 L340.02 438.91 L340.73 438.9 L341.44 438.9 L342.15 438.9 L342.86 438.9 L343.57 438.9 L344.28 438.9 L344.99 438.9 L345.7 438.9 L346.41 438.9 L347.13 438.91 L347.84 438.91 L348.55 438.91 L349.26 438.92 L349.97 438.92 L350.68 438.92 L351.39 438.93 L352.1 438.93 L352.81 438.94 L353.52 438.95 L354.23 438.95 L354.94 438.96 L355.65 438.97 L356.36 438.97 L357.07 438.98 L357.78 438.99 L358.49 439 L359.2 439.01 L359.91 439.02 L360.62 439.03 L361.33 439.04 L362.04 439.04 L362.75 439.05 L363.46 439.06 L364.17 439.07 L364.88 439.08 L365.59 439.09 L366.3 439.1 L367.01 439.11 L367.72 439.12 L368.43 439.13 L369.14 439.14 L369.85 439.15 L370.56 439.16 L371.27 439.17 L371.98 439.18 L372.69 439.19 L373.4 439.2 L374.11 439.21 L374.82 439.22 L375.54 439.24 L376.25 439.25 L376.96 439.26 L377.67 439.27 L378.38 439.28 L379.09 439.29 L379.8 439.31 L380.51 439.32 L381.22 439.33 L381.93 439.34 L382.64 439.36 L383.35 439.37 L384.06 439.39 L384.77 439.4 L385.48 439.41 L386.19 439.43 L386.9 439.44 L387.61 439.46 L388.32 439.47 L389.03 439.49 L389.74 439.5 L390.45 439.52 L391.16 439.54 L391.87 439.55 L392.58 439.57 L393.29 439.58 L394 439.6 L394.71 439.62 L395.42 439.63 L396.13 439.65 L396.84 439.67 L397.55 439.69 L398.26 439.7 L398.97 439.72 L399.68 439.74 L400.39 439.76 L401.1 439.77 L401.81 439.79 L402.52 439.81 L403.23 439.83 L403.95 439.84 L404.66 439.86 L405.37 439.88 L406.08 439.9 L406.79 439.92 L407.5 439.94 L408.21 439.96 L408.92 439.97 L409.63 439.99 L410.34 440.01 L411.05 440.03 L411.76 440.05 L412.47 440.07 L413.18 440.1 L413.89 440.12 L414.6 440.14 L415.31 440.16 L416.02 440.18 L416.73 440.2 L417.44 440.23 L418.15 440.25 L418.86 440.27 L419.57 440.3 L420.28 440.32 L420.99 440.35 L421.7 440.37 L422.41 440.4 L423.12 440.42 L423.83 440.45 L424.54 440.48 L425.25 440.5 L425.96 440.53 L426.67 440.56 L427.38 440.59 L428.09 440.62 L428.8 440.65 L429.51 440.68 L430.22 440.71 L430.93 440.75 L431.64 440.78 L432.36 440.82 L433.07 440.85 L433.78 440.89 L434.49 440.93 L435.2 440.96 L435.91 441 L436.62 441.04 L437.33 441.08 L438.04 441.12 L438.75 441.16 L439.46 441.2 L440.17 441.25 L440.88 441.29 L441.59 441.33 L442.3 441.38 L443.01 441.42 L443.72 441.46 L444.43 441.51 L445.14 441.55 L445.85 441.6 L445.85 441.6 Z" fill="#bcd874" fill-opacity="0.75"/>
<rect x="265" y="291.7" width="2.8" height="149.9" fill="none" stroke="#555" stroke-width="0.85"/>
<rect x="269.85" y="320.65" width="2.8" height="120.95" fill="none" stroke="#555" stroke-width="0.85"/>
<rect x="274.7" y="319.6" width="2.8" height="122" fill="none" stroke="#555" stroke-width="0.85"/>
<rect x="279.55" y="324.25" width="2.8" height="117.35" fill="none" stroke="#555" stroke-width="0.85"/>
<rect x="284.4" y="330.55" width="2.8" height="111.05" fill="none" stroke="#555" stroke-width="0.85"/>
<rect x="289.25" y="349.45" width="2.8" height="92.15" fill="none" stroke="#555" stroke-width="0.85"/>
<rect x="294.1" y="364.45" width="2.8" height="77.15" fill="none" stroke="#555" stroke-width="0.85"/>
<rect x="298.95" y="382.15" width="2.8" height="59.45" fill="none" stroke="#555" stroke-width="0.85"/>
<rect x="303.8" y="389.35" width="2.8" height="52.25" fill="none" stroke="#555" stroke-width="0.85"/>
<rect x="308.65" y="408.4" width="2.8" height="33.2" fill="none" stroke="#555" stroke-width="0.85"/>
<rect x="313.5" y="413.35" width="2.8" height="28.25" fill="none" stroke="#555" stroke-width="0.85"/>
<rect x="318.35" y="412.45" width="2.8" height="29.15" fill="none" stroke="#555" stroke-width="0.85"/>
<rect x="323.2" y="425.35" width="2.8" height="16.25" fill="none" stroke="#555" stroke-width="0.85"/>
<rect x="328.05" y="422.65" width="2.8" height="18.95" fill="none" stroke="#555" stroke-width="0.85"/>
<rect x="332.9" y="429.7" width="2.8" height="11.9" fill="none" stroke="#555" stroke-width="0.85"/>
<rect x="337.75" y="431.8" width="2.8" height="9.8" fill="none" stroke="#555" stroke-width="0.85"/>
<rect x="342.6" y="431.8" width="2.8" height="9.8" fill="none" stroke="#555" stroke-width="0.85"/>
<rect x="347.45" y="434.95" width="2.8" height="6.65" fill="none" stroke="#555" stroke-width="0.85"/>
<rect x="352.3" y="433.15" width="2.8" height="8.45" fill="none" stroke="#555" stroke-width="0.85"/>
<rect x="357.15" y="436.3" width="2.8" height="5.3" fill="none" stroke="#555" stroke-width="0.85"/>
<rect x="362" y="435.7" width="2.8" height="5.9" fill="none" stroke="#555" stroke-width="0.85"/>
<rect x="366.85" y="436" width="2.8" height="5.6" fill="none" stroke="#555" stroke-width="0.85"/>
<rect x="371.7" y="436.6" width="2.8" height="5" fill="none" stroke="#555" stroke-width="0.85"/>
<rect x="376.55" y="436.6" width="2.8" height="5" fill="none" stroke="#555" stroke-width="0.85"/>
<rect x="381.4" y="439.45" width="2.8" height="2.15" fill="none" stroke="#555" stroke-width="0.85"/>
<rect x="386.25" y="437.95" width="2.8" height="3.65" fill="none" stroke="#555" stroke-width="0.85"/>
<rect x="391.1" y="440.2" width="2.8" height="1.4" fill="none" stroke="#555" stroke-width="0.85"/>
<rect x="395.95" y="439.45" width="2.8" height="2.15" fill="none" stroke="#555" stroke-width="0.85"/>
<rect x="400.8" y="440.5" width="2.8" height="1.1" fill="none" stroke="#555" stroke-width="0.85"/>
<rect x="405.65" y="439.45" width="2.8" height="2.15" fill="none" stroke="#555" stroke-width="0.85"/>
<rect x="410.5" y="440.2" width="2.8" height="1.4" fill="none" stroke="#555" stroke-width="0.85"/>
<rect x="415.35" y="440.95" width="2.8" height="0.65" fill="none" stroke="#555" stroke-width="0.85"/>
<rect x="420.2" y="440.95" width="2.8" height="0.65" fill="none" stroke="#555" stroke-width="0.85"/>
<rect x="425.05" y="441.1" width="2.8" height="0.5" fill="none" stroke="#555" stroke-width="0.85"/>
<rect x="429.9" y="441.1" width="2.8" height="0.5" fill="none" stroke="#555" stroke-width="0.85"/>
<rect x="434.75" y="441.25" width="2.8" height="0.35" fill="none" stroke="#555" stroke-width="0.85"/>
<rect x="439.6" y="441.25" width="2.8" height="0.35" fill="none" stroke="#555" stroke-width="0.85"/>
<rect x="444.45" y="441.4" width="2.8" height="0.2" fill="none" stroke="#555" stroke-width="0.85"/>
<rect x="449.3" y="441.4" width="2.8" height="0.2" fill="none" stroke="#555" stroke-width="0.85"/>
<rect x="454.15" y="441.4" width="2.8" height="0.2" fill="none" stroke="#555" stroke-width="0.85"/>
<rect x="459" y="441.4" width="2.8" height="0.2" fill="none" stroke="#555" stroke-width="0.85"/>
<rect x="463.85" y="441.4" width="2.8" height="0.2" fill="none" stroke="#555" stroke-width="0.85"/>
<rect x="468.7" y="441.4" width="2.8" height="0.2" fill="none" stroke="#555" stroke-width="0.85"/>
<rect x="473.55" y="441.4" width="2.8" height="0.2" fill="none" stroke="#555" stroke-width="0.85"/>
<rect x="478.4" y="441.4" width="2.8" height="0.2" fill="none" stroke="#555" stroke-width="0.85"/>
<rect x="483.25" y="441.4" width="2.8" height="0.2" fill="none" stroke="#555" stroke-width="0.85"/>
<rect x="488.1" y="441.4" width="2.8" height="0.2" fill="none" stroke="#555" stroke-width="0.85"/>
<rect x="492.95" y="441.4" width="2.8" height="0.2" fill="none" stroke="#555" stroke-width="0.85"/>
<rect x="497.8" y="441.4" width="2.8" height="0.2" fill="none" stroke="#555" stroke-width="0.85"/>
<path d="M264.2 277.2 V441.6 M262 441.6 H512" fill="none" stroke="#231f20" stroke-width="1.2"/>
<path d="M261.3 441.6 H264.2" stroke="#231f20" stroke-width="1"/>
<text x="258" y="444.4" font-size="7.6" text-anchor="end" fill="#231f20" textLength="15" lengthAdjust="spacingAndGlyphs" >0.00</text>
<path d="M261.3 404.1 H264.2" stroke="#231f20" stroke-width="1"/>
<text x="258" y="406.9" font-size="7.6" text-anchor="end" fill="#231f20" textLength="15" lengthAdjust="spacingAndGlyphs" >0.25</text>
<path d="M261.3 366.6 H264.2" stroke="#231f20" stroke-width="1"/>
<text x="258" y="369.4" font-size="7.6" text-anchor="end" fill="#231f20" textLength="15" lengthAdjust="spacingAndGlyphs" >0.50</text>
<path d="M261.3 329.1 H264.2" stroke="#231f20" stroke-width="1"/>
<text x="258" y="331.9" font-size="7.6" text-anchor="end" fill="#231f20" textLength="15" lengthAdjust="spacingAndGlyphs" >0.75</text>
<path d="M261.3 291.6 H264.2" stroke="#231f20" stroke-width="1"/>
<text x="258" y="294.4" font-size="7.6" text-anchor="end" fill="#231f20" textLength="15" lengthAdjust="spacingAndGlyphs" >1.00</text>
<path d="M266.4 441.6 V444.1" stroke="#231f20" stroke-width="1"/>
<text x="266.4" y="453.8" font-size="7.6" text-anchor="middle" fill="#231f20" >0</text>
<path d="M314.9 441.6 V444.1" stroke="#231f20" stroke-width="1"/>
<text x="314.9" y="453.8" font-size="7.6" text-anchor="middle" fill="#231f20" >10</text>
<path d="M363.4 441.6 V444.1" stroke="#231f20" stroke-width="1"/>
<text x="363.4" y="453.8" font-size="7.6" text-anchor="middle" fill="#231f20" >20</text>
<path d="M411.9 441.6 V444.1" stroke="#231f20" stroke-width="1"/>
<text x="411.9" y="453.8" font-size="7.6" text-anchor="middle" fill="#231f20" >30</text>
<path d="M460.4 441.6 V444.1" stroke="#231f20" stroke-width="1"/>
<text x="460.4" y="453.8" font-size="7.6" text-anchor="middle" fill="#231f20" >40</text>
<path d="M508.9 441.6 V444.1" stroke="#231f20" stroke-width="1"/>
<text x="508.9" y="453.8" font-size="7.6" text-anchor="middle" fill="#231f20" >50</text>
<text x="334.2" y="274.2" font-size="10" text-anchor="start" fill="#231f20" textLength="70.4" lengthAdjust="spacingAndGlyphs" >Low VWF ECFCs</text>
<text x="345" y="467.5" font-size="9" fill="#231f20" textLength="86.5" lengthAdjust="spacingAndGlyphs"><tspan font-style="italic">VWF</tspan> expression (UMI/cell)</text>
<text transform="translate(232 359.4) rotate(-90)" font-size="8.8" text-anchor="middle" fill="#231f20" textLength="64" lengthAdjust="spacingAndGlyphs">Normalized density</text>
</svg>
</body></html>
